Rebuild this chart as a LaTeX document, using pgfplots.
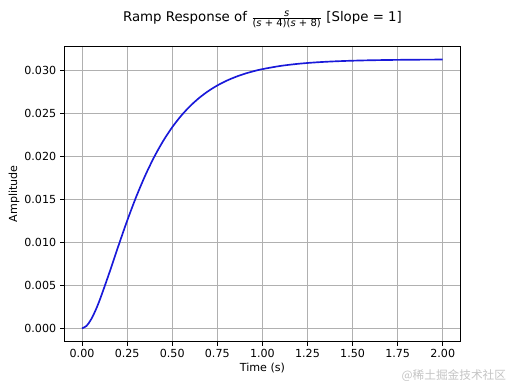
\documentclass[border=0pt]{standalone}
\usepackage{pgfplots}
\pgfplotsset{compat=1.18}
\usepackage{fontspec}
\setmainfont{DejaVu Sans}
\newfontfamily\cjk{Noto Sans CJK SC}
\definecolor{lineblue}{rgb}{0.1,0.1,0.85}
\begin{document}
\fontsize{10}{12}\selectfont
\begin{tikzpicture}
\path[use as bounding box] (0,0) rectangle (460.8pt,345.6pt);
\begin{axis}[
  at={(57.6pt,38pt)}, anchor=south west,
  scale only axis, width=357.1pt, height=266.1pt,
  xmin=-0.1, xmax=2.1, ymin=-0.0015615, ymax=0.0327905,
  xtick={0,0.25,0.5,0.75,1,1.25,1.5,1.75,2},
  ytick={0,0.005,0.01,0.015,0.02,0.025,0.03},
  scaled y ticks=false, scaled x ticks=false,
  grid=major, grid style={color=black!31, line width=0.8pt},
  axis line style={line width=0.8pt},
  tick align=outside, major tick length=3.5pt,
  tick style={line width=0.8pt, black},
  xtick pos=left, ytick pos=left,
  /pgf/number format/assume math mode=true,
  x tick label style={/pgf/number format/.cd, fixed, fixed zerofill, precision=2, /tikz/.cd},
  y tick label style={/pgf/number format/.cd, fixed, fixed zerofill, precision=3, /tikz/.cd},
  tick label style={font=\fontsize{10}{12}\selectfont},
]
\addplot[color=lineblue, line width=1.5pt, smooth, tension=0.5] coordinates {
(0,0)
(0.025,0.000283)
(0.05,0.001027)
(0.075,0.002099)
(0.1,0.003397)
(0.15,0.006362)
(0.2,0.009476)
(0.25,0.012487)
(0.3,0.015260)
(0.35,0.017738)
(0.4,0.019905)
(0.45,0.021773)
(0.5,0.023364)
(0.55,0.024709)
(0.6,0.025837)
(0.65,0.026780)
(0.7,0.027565)
(0.75,0.028216)
(0.8,0.028754)
(0.85,0.029199)
(0.9,0.029566)
(0.95,0.029867)
(1.0,0.030116)
(1.1,0.030487)
(1.2,0.030738)
(1.3,0.030906)
(1.4,0.031019)
(1.5,0.031095)
(1.6,0.031146)
(1.7,0.031180)
(1.8,0.031203)
(1.9,0.031219)
(2.0,0.031229)
};
\end{axis}
\node[anchor=base, font=\fontsize{12}{14}\selectfont] at (236.2pt,326pt)
  {Ramp Response of $\frac{\mbox{\fontsize{9}{10}\selectfont\itshape s}}{\mbox{\fontsize{9}{10}\selectfont(\textit{s} + 4)(\textit{s} + 8)}}$ [Slope = 1]};
\node[anchor=base, font=\fontsize{10}{12}\selectfont] at (236.2pt,10.8pt) {Time (s)};
\node[rotate=90, anchor=center, font=\fontsize{10}{12}\selectfont] at (12.6pt,171.05pt) {Amplitude};
\node[anchor=base east, text=black!23, font=\cjk\fontsize{10.5}{12}\selectfont] at (459pt,4.5pt) {@稀土掘金技术社区};
\end{tikzpicture}
\end{document}
